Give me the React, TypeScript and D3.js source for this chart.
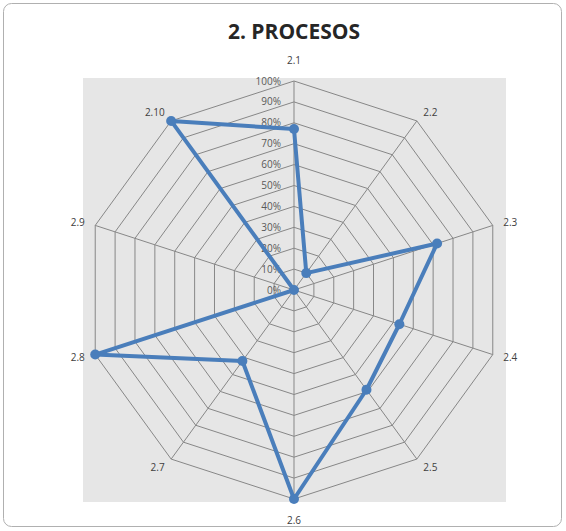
import * as d3 from "d3";
import React from "react";

const categories = ["2.1", "2.2", "2.3", "2.4", "2.5", "2.6", "2.7", "2.8", "2.9", "2.10"];
const values = [0.77, 0.1, 0.72, 0.53, 0.59, 1.0, 0.42, 1.0, 0, 1.0];
const ticks = [0, 0.1, 0.2, 0.3, 0.4, 0.5, 0.6, 0.7, 0.8, 0.9, 1.0];

const W = 566;
const H = 531;
const cx = 294;
const cy = 290;
const R = 209;

const App: React.FC = () => {
  const r = d3.scaleLinear().domain([0, 1]).range([0, R]);
  const step = (2 * Math.PI) / categories.length;
  const ang = (i: number) => i * step;
  const px = (a: number, v: number) => cx + Math.sin(a) * r(v);
  const py = (a: number, v: number) => cy - Math.cos(a) * r(v);

  const ring = (v: number) =>
    categories.map((_, i) => `${px(ang(i), v)},${py(ang(i), v)}`).join(" ");

  const line = d3
    .lineRadial<number>()
    .angle((_, i) => ang(i))
    .radius((d) => r(d))
    .curve(d3.curveLinearClosed);

  const fmt = d3.format(".0%");

  return (
    <svg
      width={W}
      height={H}
      style={{ position: "absolute", left: 0, top: 0, background: "#fff" }}
      fontFamily="'Open Sans', sans-serif"
    >
      <rect x={3.5} y={3.5} width={558} height={523} rx={8} fill="#fff" stroke="#b0b0b0" />
      <text
        x={294}
        y={39}
        textAnchor="middle"
        fontSize={21}
        fontWeight="bold"
        fill="#262626"
      >
        2. PROCESOS
      </text>

      {/* plot area */}
      <rect x={83} y={78} width={423} height={424} fill="#e6e6e6" />

      {/* rings */}
      {ticks.slice(1).map((t) => (
        <polygon key={t} points={ring(t)} fill="none" stroke="#878787" strokeWidth={1} />
      ))}
      {/* spokes */}
      {categories.map((c, i) => (
        <line
          key={c}
          x1={cx}
          y1={cy}
          x2={px(ang(i), 1)}
          y2={py(ang(i), 1)}
          stroke="#878787"
          strokeWidth={1}
        />
      ))}

      {/* tick labels */}
      {ticks.map((t) => (
        <text
          key={t}
          x={cx - 13}
          y={cy - r(t)}
          dy="0.35em"
          textAnchor="end"
          fontSize={10}
          fill="#595959"
        >
          {fmt(t)}
        </text>
      ))}

      {/* category labels */}
      {categories.map((c, i) => {
        const a = ang(i);
        const s = Math.sin(a);
        const co = Math.cos(a);
        const vx = px(a, 1);
        const vy = py(a, 1);
        const mid = Math.abs(s) < 0.1;
        const anchor = mid ? "middle" : s > 0 ? "start" : "end";
        const lx = mid ? vx : vx + s * 11;
        const ly = mid ? vy - co * 21 : vy - co * 10;
        return (
          <text
            key={c}
            x={lx}
            y={ly}
            dy="0.35em"
            textAnchor={anchor}
            fontSize={10}
            fill="#404040"
          >
            {c}
          </text>
        );
      })}

      {/* series */}
      <g transform={`translate(${cx},${cy})`}>
        <path
          d={line(values) ?? ""}
          fill="none"
          stroke="#4a7ebb"
          strokeWidth={4}
          strokeLinejoin="round"
        />
        {values.map((v, i) => (
          <circle
            key={i}
            cx={Math.sin(ang(i)) * r(v)}
            cy={-Math.cos(ang(i)) * r(v)}
            r={5}
            fill="#4a7ebb"
          />
        ))}
      </g>
    </svg>
  );
};

export default App;
